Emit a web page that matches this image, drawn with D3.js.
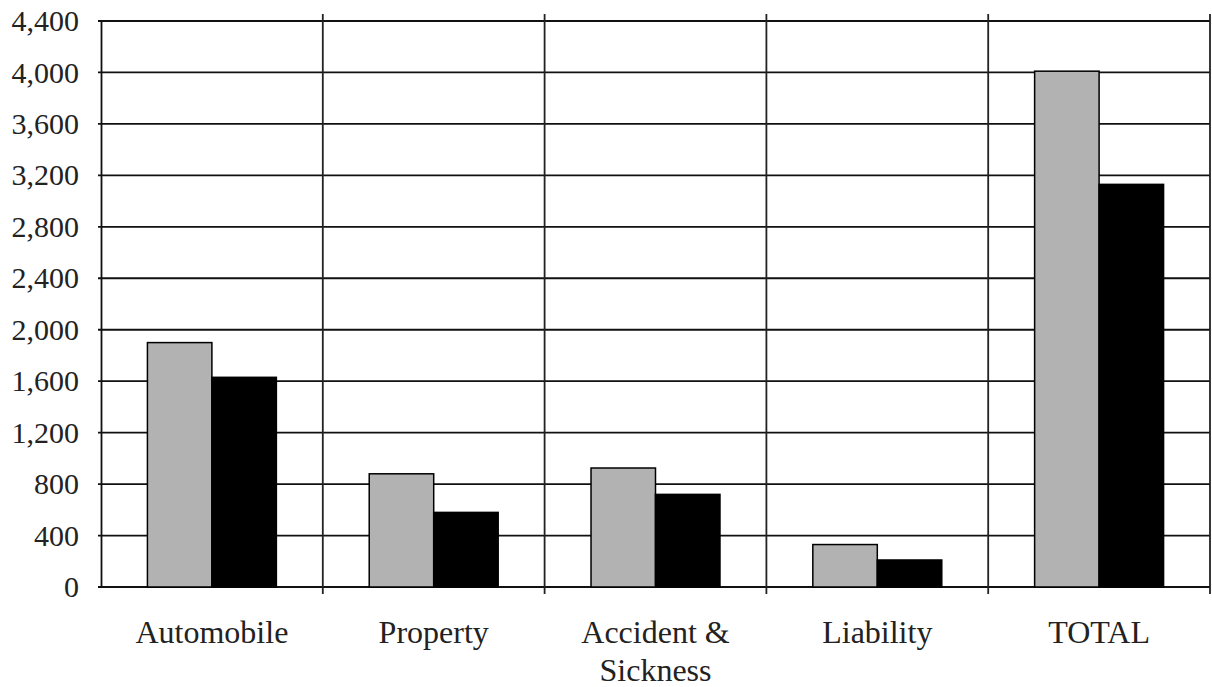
<!DOCTYPE html>
<html>
<head>
<meta charset="utf-8">
<script src="https://cdn.jsdelivr.net/npm/d3@7"></script>
<style>
  body { margin: 0; background: #fff; }
  text { font-family: "Liberation Serif", "Times New Roman", serif; fill: #222; }
</style>
</head>
<body>
<svg id="grafico"></svg>
<script>
// dados
const categorias = ['Automobile', 'Property', 'Accident & Sickness', 'Liability', 'TOTAL'];
const series = ['cinza', 'preto'];
const valoresCinza = [1900, 880, 925, 330, 4010];
const valoresPreto = [1630, 580, 720, 210, 3130];
const ticksY = [0, 400, 800, 1200, 1600, 2000, 2400, 2800, 3200, 3600, 4000, 4400];

const rotulos = {
  'Automobile': ['Automobile'],
  'Property': ['Property'],
  'Accident & Sickness': ['Accident &', 'Sickness'],
  'Liability': ['Liability'],
  'TOTAL': ['TOTAL']
};
const cores = { cinza: '#b2b2b2', preto: '#000' };

let dados = categorias.map((c, i) => ({ chave: c, cinza: valoresCinza[i], preto: valoresPreto[i] }));

let largura = 1212, altura = 687;
let svg = d3.select('#grafico').attr('width', largura).attr('height', altura);

let esq = 101, dir = 1210, topo = 21, base = 587;

let fnX = d3.scaleBand().domain(categorias).range([esq, dir]).padding(0);
let fnX1 = d3.scaleBand().domain(series).range([0, fnX.bandwidth()]).paddingInner(0).paddingOuter(0.72);
let fnY = d3.scaleLinear().domain([0, 4400]).range([base, topo]);

// linhas de grade horizontais
svg.append('g').selectAll('line')
  .data(ticksY)
  .enter().append('line')
  .attr('x1', esq - 3).attr('x2', dir)
  .attr('y1', d => fnY(d)).attr('y2', d => fnY(d))
  .attr('stroke', '#111').attr('stroke-width', 1.8);

// eixo Y
let eixoY = d3.axisLeft(fnY).tickValues(ticksY).tickFormat(d3.format(',')).tickSize(0).tickPadding(22);
let gY = svg.append('g').attr('transform', 'translate(' + esq + ',0)').call(eixoY);
gY.select('.domain').attr('stroke', '#111').attr('stroke-width', 1.8);
gY.selectAll('text').style('font-size', '30px').attr('font-family', '"Liberation Serif", serif').attr('fill', '#222');

// separadores verticais das categorias
let limites = categorias.slice(1).map(c => fnX(c)).concat([dir]);
svg.append('g').selectAll('line')
  .data(limites)
  .enter().append('line')
  .attr('x1', d => d).attr('x2', d => d)
  .attr('y1', topo - 7).attr('y2', base + 7)
  .attr('stroke', '#222').attr('stroke-width', 1.8);

// barras
let grupos = svg.selectAll('.grupo')
  .data(dados)
  .enter().append('g')
  .attr('transform', d => 'translate(' + fnX(d.chave) + ',0)');

grupos.selectAll('rect')
  .data(d => series.map(s => ({ s: s, v: d[s] })))
  .enter().append('rect')
  .attr('x', d => fnX1(d.s))
  .attr('y', d => fnY(d.v))
  .attr('width', fnX1.bandwidth())
  .attr('height', d => base - fnY(d.v))
  .attr('fill', d => cores[d.s])
  .attr('stroke', '#000')
  .attr('stroke-width', 1.5);

// rotulos das categorias
let rot = svg.append('g').selectAll('text')
  .data(categorias)
  .enter().append('text')
  .attr('x', d => fnX(d) + fnX.bandwidth() / 2)
  .attr('y', 643)
  .attr('text-anchor', 'middle')
  .style('font-size', '32px');

rot.selectAll('tspan')
  .data(d => rotulos[d])
  .enter().append('tspan')
  .attr('x', function() { return d3.select(this.parentNode).attr('x'); })
  .attr('dy', (d, i) => i === 0 ? 0 : 38)
  .text(d => d);
</script>
</body>
</html>
